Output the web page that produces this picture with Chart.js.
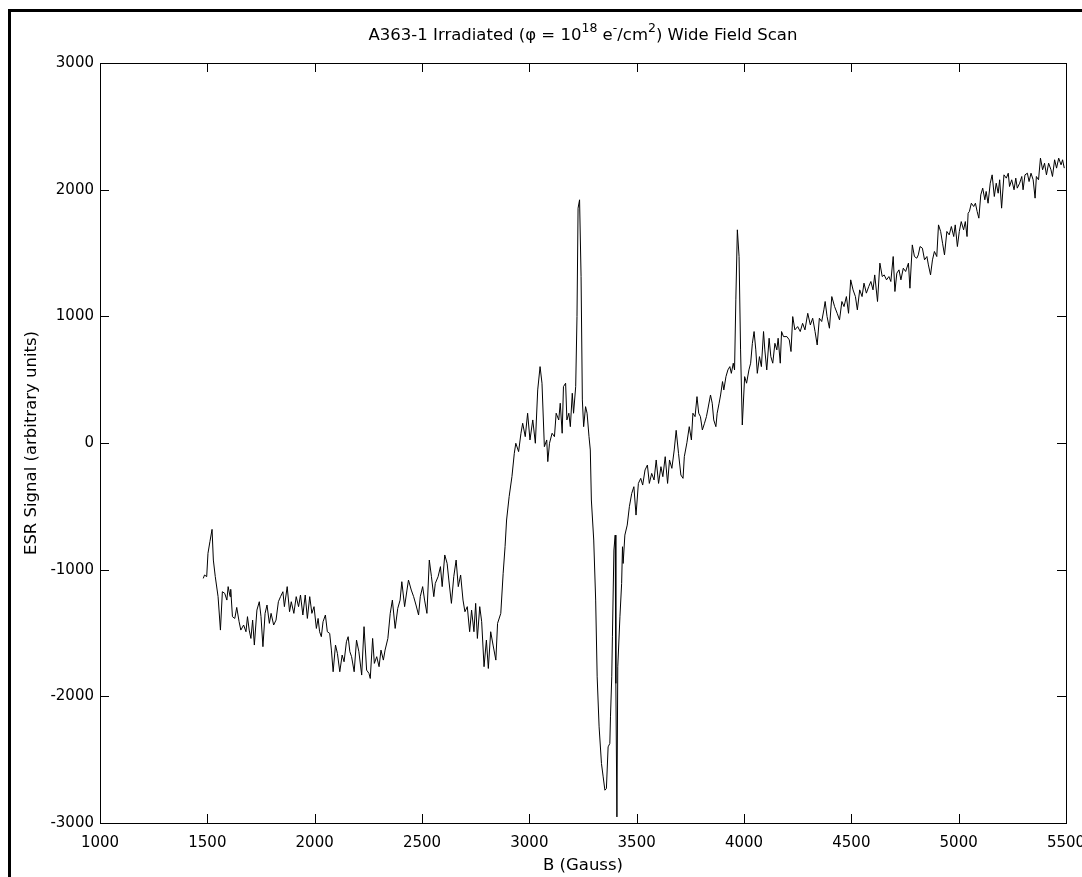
<!DOCTYPE html>
<html>
<head>
<meta charset="utf-8">
<title>A363-1 Irradiated Wide Field Scan</title>
<script src="https://cdn.jsdelivr.net/npm/chart.js@4.4.1/dist/chart.umd.min.js"></script>
<style>
  html, body { margin: 0; padding: 0; background: #fff; overflow: hidden; }
  #wrap { position: relative; width: 1082px; height: 877px; }
  #frame { position: absolute; left: 8px; top: 9px; width: 1200px; height: 1000px;
           border-left: 3px solid #000; border-top: 3px solid #000; pointer-events: none; }
  canvas { position: absolute; left: 0; top: 0; }
</style>
</head>
<body>
<div id="wrap">
  <canvas id="myChart" width="1082" height="877"></canvas>
  <div id="frame"></div>
</div>
<script>
// magnetic field (Gauss) and ESR signal
const fieldB = [
  1481, 1487, 1497, 1503, 1512, 1522, 1528, 1537, 1550, 1561, 1570, 1581, 1591, 1597, 1606, 1609,
  1617, 1628, 1637, 1648, 1656, 1669, 1680, 1687, 1695, 1703, 1711, 1719, 1731, 1742, 1750, 1759,
  1769, 1778, 1789, 1797, 1809, 1820, 1831, 1841, 1852, 1859, 1872, 1883, 1891, 1903, 1914, 1925,
  1934, 1945, 1956, 1966, 1977, 1987, 1997, 2008, 2016, 2023, 2031, 2039, 2050, 2059, 2070, 2078,
  2086, 2097, 2106, 2117, 2128, 2137, 2148, 2156, 2164, 2172, 2184, 2195, 2206, 2219, 2230, 2242,
  2253, 2259, 2270, 2278, 2289, 2300, 2309, 2320, 2328, 2341, 2352, 2362, 2375, 2387, 2398, 2406,
  2419, 2430, 2437, 2450, 2461, 2472, 2484, 2492, 2503, 2512, 2523, 2534, 2544, 2555, 2562, 2575,
  2586, 2594, 2606, 2617, 2625, 2637, 2648, 2659, 2669, 2680, 2691, 2700, 2711, 2722, 2731, 2742,
  2750, 2758, 2769, 2778, 2789, 2800, 2809, 2820, 2831, 2844, 2852, 2867, 2878, 2887, 2894, 2906,
  2919, 2930, 2937, 2950, 2961,
  2969, 2981, 2992, 3003, 3016, 3028, 3039, 3050, 3059, 3070, 3081, 3086, 3094, 3106, 3117, 3125,
  3137, 3144, 3153, 3159, 3169, 3175, 3184, 3191, 3200, 3206, 3216, 3222, 3227, 3234, 3241, 3247,
  3253, 3262, 3269, 3278, 3284,
  3289, 3300, 3309, 3316, 3325, 3336, 3344, 3352, 3359, 3367, 3375, 3378, 3384, 3387, 3394, 3400,
  3403, 3408, 3412, 3422, 3430, 3434, 3437, 3445, 3456, 3466, 3477, 3487, 3497, 3508, 3519, 3528,
  3539, 3550, 3559, 3570, 3581, 3591, 3602, 3613, 3622, 3633, 3644, 3653, 3664, 3675, 3684, 3695,
  3706, 3716, 3722,
  3734, 3745, 3755, 3762, 3772, 3781, 3789, 3797, 3806, 3816, 3825, 3831, 3844, 3852, 3859, 3869,
  3875, 3884, 3891, 3900, 3906, 3916, 3925, 3934, 3941, 3950, 3956, 3962, 3969, 3977, 3984, 3992,
  4003, 4012, 4023, 4031, 4039, 4047, 4055, 4062, 4072, 4081, 4091, 4097, 4106, 4117, 4125, 4134,
  4144, 4153, 4159, 4169, 4175, 4184,
  4200, 4211, 4219, 4227, 4237, 4250, 4262, 4273, 4284, 4297, 4309, 4320, 4331, 4341, 4351, 4362,
  4372, 4378, 4387, 4398, 4409, 4422, 4434, 4445, 4456, 4466, 4477, 4487, 4497, 4508, 4519, 4528,
  4539, 4550, 4559, 4570, 4581, 4591, 4601, 4609, 4622, 4633, 4644, 4653, 4664, 4675, 4684, 4695,
  4703, 4712, 4722, 4731, 4742, 4753, 4766, 4773, 4784, 4794, 4805, 4812, 4820, 4831, 4841, 4852,
  4859, 4869, 4878, 4887, 4898, 4906, 4916, 4925, 4934, 4945, 4956, 4966, 4977, 4984, 4994, 5003,
  5012, 5023, 5031, 5039, 5044, 5050, 5059, 5070, 5078, 5086, 5094, 5103, 5112, 5122, 5128, 5137,
  5147, 5156, 5166, 5175, 5184, 5191, 5200, 5211, 5222, 5231, 5237, 5247, 5258, 5266, 5273, 5284,
  5294, 5300, 5309, 5320, 5328, 5337, 5347, 5356, 5362, 5372, 5381, 5391, 5400, 5409, 5419, 5430,
  5437, 5447, 5456, 5466, 5477, 5484, 5492
];
const esrSignal = [
  -1069, -1042, -1055, -871, -779, -682, -924, -1055, -1213, -1477, -1174, -1187, -1240, -1134, -1213, -1155,
  -1371, -1385, -1298, -1411, -1477, -1437, -1490, -1371, -1477, -1543, -1398, -1595, -1319, -1253, -1371, -1608,
  -1345, -1279, -1424, -1345, -1437, -1398, -1253, -1213, -1174, -1292, -1134, -1332, -1253, -1345, -1213, -1292,
  -1200, -1358, -1200, -1385, -1213, -1345, -1292, -1464, -1385, -1490, -1529, -1411, -1358, -1490, -1503, -1635,
  -1806, -1595, -1661, -1806, -1674, -1727, -1569, -1529, -1648, -1687, -1806, -1556, -1648, -1832, -1450, -1793,
  -1819, -1859, -1543, -1740, -1687, -1766, -1635, -1714, -1635, -1543, -1345, -1240, -1464, -1306, -1240, -1095,
  -1292, -1161, -1082, -1161, -1213, -1279, -1358, -1213, -1134, -1240, -1345, -924, -1055, -1213, -1108, -1055,
  -976, -1134, -884, -950, -1082, -1266, -1055, -924, -1134, -1042, -1240, -1332, -1292, -1490, -1319, -1490,
  -1266, -1543, -1292, -1411, -1766, -1556, -1780, -1490, -1595, -1714, -1424, -1345, -1029, -818, -608, -423,
  -265, -81, -2, -68, 77,
  156, 50, 235, 24, 182, -2, 419, 603, 472, -29, 24, -147, -2, 77, 50, 235,
  182, 314, 77, 445, 472, 182, 235, 129, 393, 235, 445, 998, 1854, 1920, 1314, 340,
  129, 287, 235, 50, -55,
  -450, -766, -1240, -1846, -2241, -2530, -2636, -2741, -2728, -2399, -2372, -2162, -1846, -1530, -845, -727,
  -1898, -2952, -1767, -1372, -1109, -819, -951, -727, -648, -503, -398, -345, -569, -319, -279, -332,
  -213, -174, -319, -240, -292, -134, -319, -187, -266, -108, -319, -134, -200, -55, 100, -82,
  -253, -279, -108,
  2, 129, 24, 235, 208, 366, 235, 208, 103, 156, 208, 261, 379, 314, 182, 129,
  235, 314, 379, 485, 419, 524, 577, 603, 550, 630, 577, 1130, 1683, 1472, 735, 142,
  524, 472, 577, 630, 787, 880, 735, 550, 682, 603, 880, 735, 577, 827, 682, 630,
  787, 735, 827, 630, 880, 840,
  840, 814, 722, 998, 893, 919, 880, 945, 893, 1024, 932, 985, 880, 774, 985, 959,
  1051, 1117, 998, 906, 1156, 1077, 1024, 972, 1117, 1077, 1156, 1024, 1288, 1209, 1156, 1051,
  1209, 1156, 1262, 1183, 1235, 1275, 1209, 1327, 1117, 1420, 1314, 1327, 1288, 1314, 1275, 1472,
  1196, 1341, 1367, 1288, 1380, 1354, 1420, 1222, 1564, 1472, 1459, 1485, 1551, 1538, 1446, 1472,
  1406, 1327, 1446, 1512, 1472, 1722, 1670, 1577, 1485, 1670, 1643, 1709, 1630, 1722, 1551, 1670,
  1748, 1683, 1748, 1630, 1814, 1828, 1893, 1867, 1893, 1828, 1775, 1959, 2012, 1920, 1986, 1893,
  2051, 2117, 1946, 2051, 1972, 2078, 1854, 2117, 2091, 2130, 2025, 2078, 1999, 2091, 2012, 2051,
  2104, 1999, 2117, 2130, 2064, 2130, 2078, 1933, 2104, 2078, 2249, 2157, 2209, 2117, 2209, 2157,
  2104, 2236, 2170, 2249, 2196, 2236, 2170
];
const xTickValues = [1000, 1500, 2000, 2500, 3000, 3500, 4000, 4500, 5000, 5500];
const yTickValues = [-3000, -2000, -1000, 0, 1000, 2000, 3000];

const FONT = "'DejaVu Sans', 'Liberation Sans', Arial, sans-serif";

// MATLAB-like box, inward ticks on all four sides, and the texts
const matlabBox = {
  id: 'matlabBox',
  afterDraw(chart) {
    const { ctx, chartArea: a, scales: { x, y } } = chart;
    const tick = 9;
    ctx.save();
    ctx.strokeStyle = '#000';
    ctx.lineWidth = 1;
    ctx.beginPath();
    x.ticks.forEach(t => {
      const px = Math.round(x.getPixelForValue(t.value)) + 0.5;
      ctx.moveTo(px, a.bottom); ctx.lineTo(px, a.bottom - tick);
      ctx.moveTo(px, a.top); ctx.lineTo(px, a.top + tick);
    });
    y.ticks.forEach(t => {
      const py = Math.round(y.getPixelForValue(t.value)) + 0.5;
      ctx.moveTo(a.left, py); ctx.lineTo(a.left + tick, py);
      ctx.moveTo(a.right, py); ctx.lineTo(a.right - tick, py);
    });
    ctx.stroke();
    ctx.strokeRect(Math.round(a.left) + 0.5, Math.round(a.top) + 0.5,
                   Math.round(a.width), Math.round(a.height));

    ctx.fillStyle = '#000';
    const cx = (a.left + a.right) / 2;

    // title with superscripts
    const parts = [
      ['A363-1 Irradiated (\u03c6 = 10', 0],
      ['18', 1],
      [' e', 0],
      ['-', 1],
      ['/cm', 0],
      ['2', 1],
      [') Wide Field Scan', 0]
    ];
    const big = '16.5px ' + FONT, small = '12.5px ' + FONT;
    let total = 0;
    parts.forEach(p => { ctx.font = p[1] ? small : big; total += ctx.measureText(p[0]).width; });
    let tx = cx - total / 2;
    ctx.textBaseline = 'alphabetic';
    ctx.textAlign = 'left';
    parts.forEach(p => {
      ctx.font = p[1] ? small : big;
      ctx.fillText(p[0], tx, p[1] ? 32 : 40);
      tx += ctx.measureText(p[0]).width;
    });

    // axis titles
    ctx.font = big;
    ctx.textAlign = 'center';
    ctx.fillText('B (Gauss)', cx, 870);
    ctx.translate(36, (a.top + a.bottom) / 2);
    ctx.rotate(-Math.PI / 2);
    ctx.fillText('ESR Signal (arbitrary units)', 0, 0);
    ctx.restore();
  }
};

function drawChart() {
  const points = fieldB.map((b, i) => ({ x: b, y: esrSignal[i] }));
  const ctx = document.getElementById('myChart').getContext('2d');
  new Chart(ctx, {
    type: 'scatter',
    data: {
      datasets: [{
        label: 'ESR signal',
        data: points,
        showLine: true,
        borderColor: '#000',
        borderWidth: 1,
        pointRadius: 0,
        tension: 0
      }]
    },
    options: {
      responsive: false,
      animation: false,
      devicePixelRatio: 1,
      layout: { padding: { top: 63, right: 16, left: 0, bottom: 0 } },
      plugins: {
        legend: { display: false },
        title: { display: false },
        tooltip: { enabled: false }
      },
      scales: {
        x: {
          type: 'linear',
          min: 1000,
          max: 5500,
          grid: { display: false, drawTicks: false },
          border: { display: false },
          afterBuildTicks: s => { s.ticks = xTickValues.map(v => ({ value: v })); },
          afterFit: s => { s.height = 54; s.paddingLeft = 0; s.paddingRight = 0; },
          ticks: {
            color: '#000',
            font: { family: FONT, size: 15 },
            padding: 11,
            maxRotation: 0,
            autoSkip: false,
            callback: v => String(v)
          }
        },
        y: {
          min: -3000,
          max: 3000,
          grid: { display: false, drawTicks: false },
          border: { display: false },
          afterBuildTicks: s => { s.ticks = yTickValues.map(v => ({ value: v })); },
          afterFit: s => { s.width = 100; s.paddingTop = 0; s.paddingBottom = 0; },
          ticks: {
            color: '#000',
            font: { family: FONT, size: 15 },
            padding: 6,
            autoSkip: false,
            callback: v => String(v)
          }
        }
      }
    },
    plugins: [matlabBox]
  });
}

drawChart();
</script>
</body>
</html>
